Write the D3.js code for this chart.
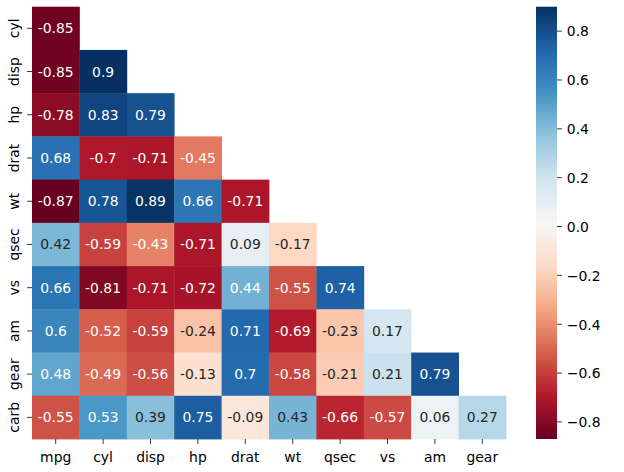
<!DOCTYPE html>
<html><head><meta charset="utf-8">
<script src="https://cdn.jsdelivr.net/npm/d3@7"></script>
<style>body{margin:0;background:#fff;} svg{display:block;font-family:"DejaVu Sans",sans-serif;}</style>
</head><body>
<svg id="c" width="624" height="472"></svg>
<script>
const rowLabels = ["cyl","disp","hp","drat","wt","qsec","vs","am","gear","carb"];
const colLabels = ["mpg","cyl","disp","hp","drat","wt","qsec","vs","am","gear"];
// lower-triangle correlation values, row by row (row = rowLabels[i], columns mpg..)
const corrRows = [
  [-0.85],
  [-0.85, 0.90],
  [-0.78, 0.83, 0.79],
  [0.68, -0.70, -0.71, -0.45],
  [-0.87, 0.78, 0.89, 0.66, -0.71],
  [0.42, -0.59, -0.43, -0.71, 0.09, -0.17],
  [0.66, -0.81, -0.71, -0.72, 0.44, -0.55, 0.74],
  [0.60, -0.52, -0.59, -0.24, 0.71, -0.69, -0.23, 0.17],
  [0.48, -0.49, -0.56, -0.13, 0.70, -0.58, -0.21, 0.21, 0.79],
  [-0.55, 0.53, 0.39, 0.75, -0.09, 0.43, -0.66, -0.57, 0.06, 0.27]
];
const cbTicks = [-0.8,-0.6,-0.4,-0.2,0.0,0.2,0.4,0.6,0.8];
const rdbu = ["#67001f","#b2182b","#d6604d","#f4a582","#fddbc7","#f7f7f7","#d1e5f0","#92c5de","#4393c3","#2166ac","#053061"];

const cells = [];
corrRows.forEach((r,i)=>r.forEach((v,j)=>cells.push({row:rowLabels[i], col:colLabels[j], v})));
const vmin = d3.min(cells,d=>d.v), vmax = d3.max(cells,d=>d.v);

const svg = d3.select("#c");
const L=32, R=506, T=6.7, B=439;
const x = d3.scaleBand().domain(colLabels).range([L,R]);
const y = d3.scaleBand().domain(rowLabels).range([T,B]);
const color = d3.scaleLinear()
  .domain(d3.range(11).map(k=>vmin + (vmax-vmin)*k/10))
  .range(rdbu).interpolate(d3.interpolateRgb).clamp(true);

function lum(c){
  const o = d3.rgb(c);
  const f = u=>{u/=255; return u<=0.03928? u/12.92 : Math.pow((u+0.055)/1.055,2.4);};
  return 0.2126*f(o.r)+0.7152*f(o.g)+0.0722*f(o.b);
}
const fmt2g = v => Number(v.toPrecision(2)).toString();

svg.append("g").selectAll("rect").data(cells).join("rect")
  .attr("x",d=>x(d.col)).attr("y",d=>y(d.row))
  .attr("width",x.bandwidth()+0.4).attr("height",y.bandwidth()+0.4)
  .attr("fill",d=>color(d.v));

svg.append("g").selectAll("text").data(cells).join("text")
  .attr("x",d=>x(d.col)+x.bandwidth()/2)
  .attr("y",d=>y(d.row)+y.bandwidth()/2+5)
  .attr("text-anchor","middle").attr("font-size","13.9px")
  .attr("fill",d=>lum(color(d.v))>0.408?"#262626":"#ffffff")
  .text(d=>fmt2g(d.v));

// x axis
const gx = svg.append("g");
colLabels.forEach(c=>{
  const cx = x(c)+x.bandwidth()/2;
  gx.append("line").attr("x1",cx).attr("x2",cx).attr("y1",B).attr("y2",B+4.9).attr("stroke","#000").attr("stroke-width",0.8);
  gx.append("text").attr("x",cx).attr("y",461.5).attr("text-anchor","middle").attr("font-size","13.9px").attr("fill","#000").text(c);
});
// y axis
const gy = svg.append("g");
rowLabels.forEach(r=>{
  const cy = y(r)+y.bandwidth()/2;
  gy.append("line").attr("x1",L-4.9).attr("x2",L).attr("y1",cy).attr("y2",cy).attr("stroke","#000").attr("stroke-width",0.8);
  gy.append("text").attr("transform",`translate(18.5,${cy}) rotate(-90)`).attr("text-anchor","middle").attr("font-size","13.9px").attr("fill","#000").text(r);
});

// colorbar
const CL=536, CR=557;
const cy = d3.scaleLinear().domain([vmin,vmax]).range([B,T]);
const defs = svg.append("defs");
const grad = defs.append("linearGradient").attr("id","cbg").attr("x1",0).attr("y1",1).attr("x2",0).attr("y2",0);
d3.range(0,1.0001,0.02).forEach(t=>{
  grad.append("stop").attr("offset",t).attr("stop-color",color(vmin+(vmax-vmin)*t));
});
svg.append("rect").attr("x",CL).attr("y",T).attr("width",CR-CL).attr("height",B-T).attr("fill","url(#cbg)");
const gc = svg.append("g");
cbTicks.forEach(t=>{
  const ty = cy(t);
  gc.append("line").attr("x1",CR).attr("x2",CR+4.9).attr("y1",ty).attr("y2",ty).attr("stroke","#000").attr("stroke-width",0.8);
  gc.append("text").attr("x",CR+9.8).attr("y",ty+5.3).attr("font-size","13.9px").attr("fill","#000")
    .text(d3.format(".1f")(t).replace("-","−"));
});
</script>
</body></html>
